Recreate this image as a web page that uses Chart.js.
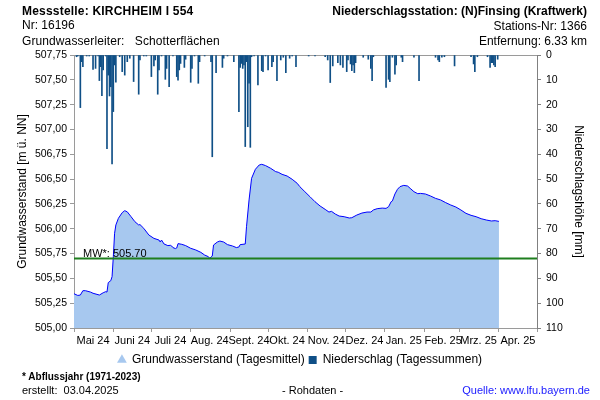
<!DOCTYPE html>
<html>
<head>
<meta charset="utf-8">
<script src="https://cdn.jsdelivr.net/npm/chart.js@4/dist/chart.umd.min.js"></script>
<style>
  body { margin: 0; background: #fff; }
  #wrap { position: relative; width: 600px; height: 400px; font-family: "Liberation Sans", Arial, sans-serif; color: #000; }
  #wrap canvas { position: absolute; left: 0; top: 0; }
  .t { position: absolute; white-space: pre; line-height: 12px; font-size: 12px; }
  .r { text-align: right; }
  .f { font-size: 11px; line-height: 11px; }
</style>
</head>
<body>
<div id="wrap">
  <canvas id="chart" width="600" height="400"></canvas>
  <div class="t" style="left:22px;top:5px;font-weight:bold;letter-spacing:0.2px">Messstelle: KIRCHHEIM I 554</div>
  <div class="t" style="left:22px;top:19px">Nr: 16196</div>
  <div class="t" style="left:22px;top:35px;letter-spacing:0.1px">Grundwasserleiter:   Schotterflächen</div>
  <div class="t r" style="right:13px;top:5px;font-weight:bold">Niederschlagsstation: (N)Finsing (Kraftwerk)</div>
  <div class="t r" style="right:13px;top:20px">Stations-Nr: 1366</div>
  <div class="t r" style="right:13px;top:35px">Entfernung: 6.33 km</div>
  <div class="t f" style="left:22px;top:371px;font-size:10px;font-weight:bold">* Abflussjahr (1971-2023)</div>
  <div class="t f" style="left:22px;top:385px">erstellt:  03.04.2025</div>
  <div class="t f" style="left:282px;top:385px">- Rohdaten -</div>
  <div class="t f r" style="right:10px;top:385px;color:#1a1aff">Quelle: www.lfu.bayern.de</div>
</div>
<script>
// Tage ab 01.05.2024
const monthStarts = [0, 31, 61, 92, 123, 153, 184, 214, 245, 276, 304, 335, 365]
const monthLabels = ['Mai 24', 'Juni 24', 'Juli 24', 'Aug. 24', 'Sept. 24', 'Okt. 24', 'Nov. 24',
  'Dez. 24', 'Jan. 25', 'Feb. 25', 'Mrz. 25', 'Apr. 25', '']

// Grundwasserstand (Tagesmittel)
const gwDays = [0, 3, 5, 7, 9, 13, 15, 20, 23, 25, 26, 27, 29, 30, 31, 32, 33, 35, 38, 40, 42, 45, 48, 51, 52, 55,
  59, 63, 67, 68, 69, 71, 74, 76, 77, 78, 80, 81, 82, 85, 88, 92, 96, 100, 103, 106, 107, 109, 110, 113, 115,
  118, 121, 125, 128, 130, 131, 135, 136, 138, 140, 143, 146, 148, 151, 155, 159, 161, 164, 168, 172, 176,
  178, 182, 186, 190, 194, 198, 201, 203, 206, 209, 213, 217, 219, 223, 227, 231, 234, 236, 239, 243, 246,
  248, 250, 251, 253, 255, 257, 260, 263, 265, 268, 271, 273, 277, 281, 285, 289, 293, 297, 301, 305, 309,
  313, 317, 321, 325, 329, 332, 335]
const gwLevel = [505.345, 505.328, 505.332, 505.376, 505.376, 505.362, 505.350, 505.332, 505.355, 505.366,
  505.362, 505.457, 505.477, 505.517, 505.718, 505.954, 506.038, 506.105, 506.162, 506.182, 506.170, 506.121,
  506.071, 506.038, 506.042, 506.004, 505.937, 505.903, 505.886, 505.866, 505.886, 505.846, 505.830, 505.833,
  505.826, 505.810, 505.800, 505.806, 505.850, 505.843, 505.830, 505.803, 505.786, 505.762, 505.735, 505.718,
  505.702, 505.725, 505.836, 505.866, 505.876, 505.866, 505.840, 505.826, 505.810, 505.816, 505.840, 505.846,
  506.020, 506.290, 506.508, 506.599, 506.642, 506.649, 506.636, 506.609, 506.575, 506.569, 506.548, 506.531,
  506.498, 506.457, 506.424, 506.373, 506.323, 506.272, 506.229, 506.195, 506.168, 506.175, 506.148, 506.128,
  506.121, 506.108, 506.111, 506.138, 506.158, 506.168, 506.168, 506.189, 506.202, 506.208, 506.205, 506.222,
  506.272, 506.280, 506.350, 506.397, 506.424, 506.437, 506.430, 506.407, 506.373, 506.353, 506.356, 506.350,
  506.330, 506.306, 506.290, 506.263, 506.239, 506.219, 506.189, 506.155, 506.135, 506.121, 506.101, 506.088,
  506.078, 506.081, 506.074]

// Niederschlag (Tagessummen) in mm
const rainDays = [2, 3, 5, 6, 7, 10, 12, 15, 17, 19, 20, 21, 22, 23, 25, 26, 27, 28, 29, 30, 31, 32, 33, 36, 38,
  40, 42, 44, 47, 51, 52, 55, 57, 61, 63, 64, 66, 67, 69, 72, 73, 75, 78, 81, 82, 83, 84, 87, 88, 92, 93, 95,
  98, 99, 103, 108, 109, 112, 117, 118, 121, 126, 130, 131, 132, 133, 134, 135, 136, 137, 138, 139, 140, 142,
  145, 148, 149, 151, 153, 156, 157, 160, 163, 165, 167, 170, 172, 175, 185, 190, 198, 200, 202, 204, 208,
  210, 212, 215, 216, 218, 219, 220, 221, 222, 228, 232, 234, 235, 236, 246, 248, 249, 251, 253, 254, 258,
  259, 268, 272, 285, 287, 288, 290, 292, 300, 313, 315, 316, 318, 326, 328, 329, 330, 331, 332, 334]
const rainMm = [0.7, 0.4, 21.2, 2.7, 4.7, 0.4, 0.4, 5.8, 5.4, 0.4, 10.3, 4.7, 16.4, 6.0, 0.4, 37.7, 8.1, 16.5,
  12.8, 43.9, 22.8, 4.0, 10.9, 0.7, 6.7, 8.1, 2.7, 1.3, 10.7, 15.8, 2.0, 0.4, 0.4, 8.7, 4.4, 2.0, 15.8, 6.0,
  0.4, 9.8, 5.4, 12.8, 0.4, 8.7, 10.1, 6.0, 3.4, 5.0, 1.7, 11.0, 5.4, 0.4, 11.4, 2.7, 0.4, 2.7, 41.0, 7.1,
  5.0, 1.3, 0.4, 2.7, 22.8, 5.0, 3.4, 5.4, 4.0, 36.9, 2.7, 28.9, 11.4, 37.2, 0.7, 0.4, 12.1, 6.3, 6.7, 0.4,
  6.0, 4.7, 2.7, 10.3, 2.0, 0.9, 7.1, 1.3, 0.4, 4.7, 0.4, 0.4, 0.7, 2.0, 11.1, 4.4, 3.1, 4.0, 5.0, 6.7, 2.0,
  3.6, 6.3, 4.0, 7.1, 3.1, 0.9, 1.7, 5.4, 10.3, 0.7, 13.1, 9.8, 10.7, 0.9, 7.7, 4.0, 0.9, 2.7, 0.9, 10.3,
  0.9, 2.0, 2.7, 0.9, 0.7, 4.4, 0.7, 3.6, 6.7, 0.7, 0.7, 5.0, 3.1, 3.1, 4.0, 4.7, 1.7]

const meanLevel = 505.70

const gwPoints = gwDays.map((d, i) => ({ x: d, y: gwLevel[i] }))
const rainPoints = rainDays.map((d, i) => ({ x: d, y: rainMm[i] }))

Chart.defaults.font.family = '"Liberation Sans", Arial, sans-serif'
Chart.defaults.color = '#000'

const axisGrey = '#9a9a9a'

// Beschriftung der Mittelwertlinie
const mwLabel = {
  id: 'mwLabel',
  afterDatasetsDraw(chart) {
    const ctx = chart.ctx
    const y = chart.scales.y.getPixelForValue(meanLevel)
    ctx.save()
    ctx.font = '11px "Liberation Sans", Arial, sans-serif'
    ctx.fillStyle = '#000'
    ctx.textBaseline = 'alphabetic'
    ctx.fillText('MW*: ' + meanLevel.toFixed(2), chart.chartArea.left + 9, y - 2)
    ctx.restore()
  }
}

new Chart(document.getElementById('chart'), {
  type: 'bar',
  data: {
    datasets: [
      {
        type: 'line',
        label: 'Grundwasserstand (Tagesmittel)',
        data: gwPoints,
        xAxisID: 'x',
        yAxisID: 'y',
        borderColor: '#0000ff',
        borderWidth: 1,
        backgroundColor: '#a7c8ef',
        fill: 'start',
        pointRadius: 0,
        pointStyle: 'triangle',
        tension: 0,
        order: 3
      },
      {
        type: 'bar',
        label: 'Niederschlag (Tagessummen)',
        data: rainPoints,
        xAxisID: 'x',
        yAxisID: 'y2',
        backgroundColor: '#0f4f86',
        barThickness: 1,
        pointStyle: 'rect',
        order: 2
      },
      {
        type: 'line',
        label: 'MW',
        data: [{ x: 0, y: meanLevel }, { x: 365, y: meanLevel }],
        xAxisID: 'x',
        yAxisID: 'y',
        borderColor: '#1f7f1f',
        borderWidth: 2,
        pointRadius: 0,
        fill: false,
        order: 1
      }
    ]
  },
  options: {
    responsive: false,
    animation: false,
    layout: { padding: { top: 55, bottom: 24, left: 0, right: 0 } },
    plugins: {
      tooltip: { enabled: false },
      legend: {
        position: 'bottom',
        labels: {
          usePointStyle: true,
          boxWidth: 8,
          boxHeight: 8,
          padding: 4,
          font: { size: 12 },
          filter: item => item.text !== 'MW',
          sort: (a, b) => a.datasetIndex - b.datasetIndex,
          generateLabels: chart => {
            const items = Chart.defaults.plugins.legend.labels.generateLabels(chart)
            items.forEach(it => { it.strokeStyle = it.fillStyle; it.lineWidth = 0 })
            return items
          }
        }
      }
    },
    scales: {
      x: {
        type: 'linear',
        position: 'bottom',
        min: 0,
        max: 365,
        offset: false,
        afterBuildTicks: scale => { scale.ticks = monthStarts.map(v => ({ value: v })) },
        afterFit: scale => { scale.height = 22 },
        grid: { drawOnChartArea: false, offset: false, color: axisGrey, tickLength: 4 },
        border: { color: axisGrey },
        ticks: {
          autoSkip: false,
          maxRotation: 0,
          labelOffset: 19,
          padding: 2,
          font: { size: 11 },
          callback: (v, i) => monthLabels[i]
        }
      },
      xTop: {
        type: 'linear',
        position: 'top',
        min: 0,
        max: 365,
        ticks: { display: false },
        grid: { display: false, drawTicks: false },
        border: { display: true, color: axisGrey },
        afterFit: scale => { scale.height = 0 }
      },
      y: {
        position: 'left',
        min: 505,
        max: 507.75,
        afterFit: scale => { scale.width = 74 },
        grid: { drawOnChartArea: false, color: axisGrey, tickLength: 4 },
        border: { color: axisGrey },
        ticks: {
          stepSize: 0.25,
          padding: 3,
          font: { size: 10.5 },
          callback: v => v.toFixed(2).replace('.', ',')
        },
        title: {
          display: true,
          text: 'Grundwasserstand [m ü. NN]',
          font: { size: 12 },
          padding: { top: 15, bottom: 0 }
        }
      },
      y2: {
        position: 'right',
        reverse: true,
        min: 0,
        max: 110,
        afterFit: scale => { scale.width = 63 },
        grid: { drawOnChartArea: false, color: '#808080', tickLength: 4 },
        border: { color: '#808080' },
        ticks: {
          stepSize: 10,
          padding: 5,
          font: { size: 10.5 }
        },
        title: {
          display: true,
          text: 'Niederschlagshöhe [mm]',
          font: { size: 12 },
          padding: { top: 14, bottom: 0 }
        }
      }
    }
  },
  plugins: [mwLabel]
})
</script>
</body>
</html>
